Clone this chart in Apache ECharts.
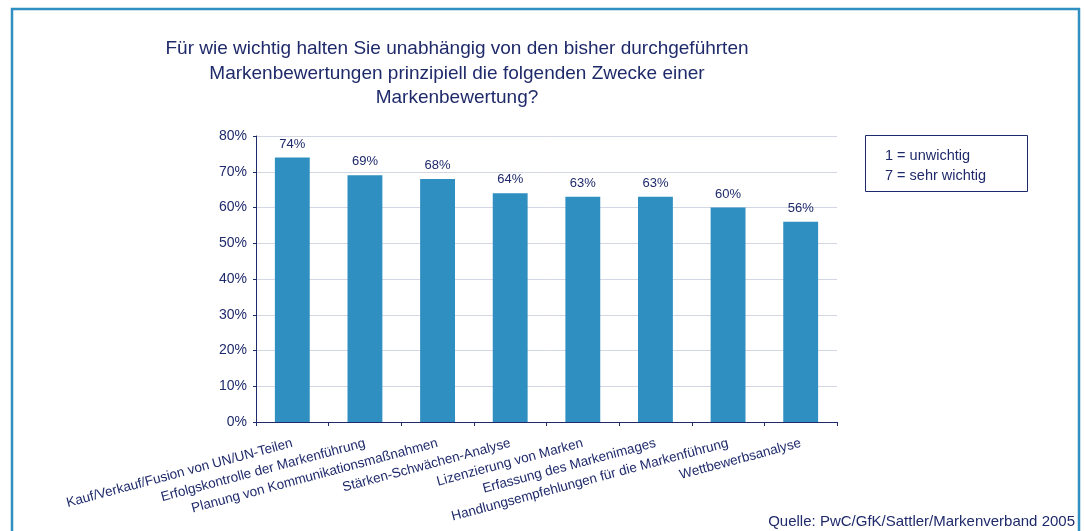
<!DOCTYPE html>
<html>
<head>
<meta charset="utf-8">
<script src="https://cdn.jsdelivr.net/npm/echarts@6/dist/echarts.min.js"></script>
<style>html,body{margin:0;padding:0;background:#fff;}#c{width:1085px;height:531px;}</style>
</head>
<body>
<div id="c"></div>
<script>
var categories = [
  "Kauf/Verkauf/Fusion von UN/UN-Teilen",
  "Erfolgskontrolle der Markenführung",
  "Planung von Kommunikationsmaßnahmen",
  "Stärken-Schwächen-Analyse",
  "Lizenzierung von Marken",
  "Erfassung des Markenimages",
  "Handlungsempfehlungen für die Markenführung",
  "Wettbewerbsanalyse"
];
var values = [74, 69, 68, 64, 63, 63, 60, 56];
var titleLines = [
  "Für wie wichtig halten Sie unabhängig von den bisher durchgeführten",
  "Markenbewertungen prinzipiell die folgenden Zwecke einer",
  "Markenbewertung?"
];
var legendLines = ["1 = unwichtig", "7 = sehr wichtig"];
var sourceText = "Quelle: PwC/GfK/Sattler/Markenverband 2005";

var navy = "#1F2A6B";
var font = "Liberation Sans, Arial, sans-serif";
var chart = echarts.init(document.getElementById('c'));
chart.setOption({
  animation: false,
  backgroundColor: "#fff",
  textStyle: { fontFamily: font },
  title: {
    text: titleLines.join("\n"),
    left: 452, top: 32, textAlign: "center",
    textStyle: { color: navy, fontSize: 19, fontWeight: "normal", lineHeight: 24.5, fontFamily: font }
  },
  grid: { left: 256, right: 248, top: 136, bottom: 109, containLabel: false },
  xAxis: {
    type: "category",
    data: categories,
    axisLine: { lineStyle: { color: navy, width: 1 } },
    axisTick: { show: true, alignWithLabel: false, length: 4, lineStyle: { color: navy } },
    axisLabel: { rotate: 15, interval: 0, color: navy, fontSize: 13.5, margin: 21 }
  },
  yAxis: {
    type: "value", min: 0, max: 80, interval: 10,
    axisLine: { show: true, lineStyle: { color: navy, width: 1 } },
    axisTick: { show: true, length: 3, lineStyle: { color: navy } },
    axisLabel: { formatter: "{value}%", color: navy, fontSize: 14, margin: 9 },
    splitLine: { lineStyle: { color: "#D3D6E3", width: 1 } }
  },
  series: [{
    type: "bar",
    data: values,
    barWidth: "48%",
    itemStyle: { color: "#2E8FC0" },
    label: { show: true, position: "top", formatter: "{c}%", color: navy, fontSize: 13, distance: 7 }
  }],
  graphic: [
    { type: "rect", shape: { x: 12, y: 9, width: 1067, height: 540 }, style: { fill: null, stroke: "#2E8FC0", lineWidth: 2.5 } },
    { type: "rect", shape: { x: 865.5, y: 135.5, width: 162, height: 56 }, style: { fill: "#fff", stroke: navy, lineWidth: 1 } },
    { type: "text", left: 885, top: 146, style: { text: legendLines.join("\n"), fill: navy, fontSize: 14.5, lineHeight: 20, fontFamily: font } },
    { type: "text", right: 10, top: 514, style: { text: sourceText, fill: navy, fontSize: 15, fontFamily: font } }
  ]
});
</script>
</body>
</html>
